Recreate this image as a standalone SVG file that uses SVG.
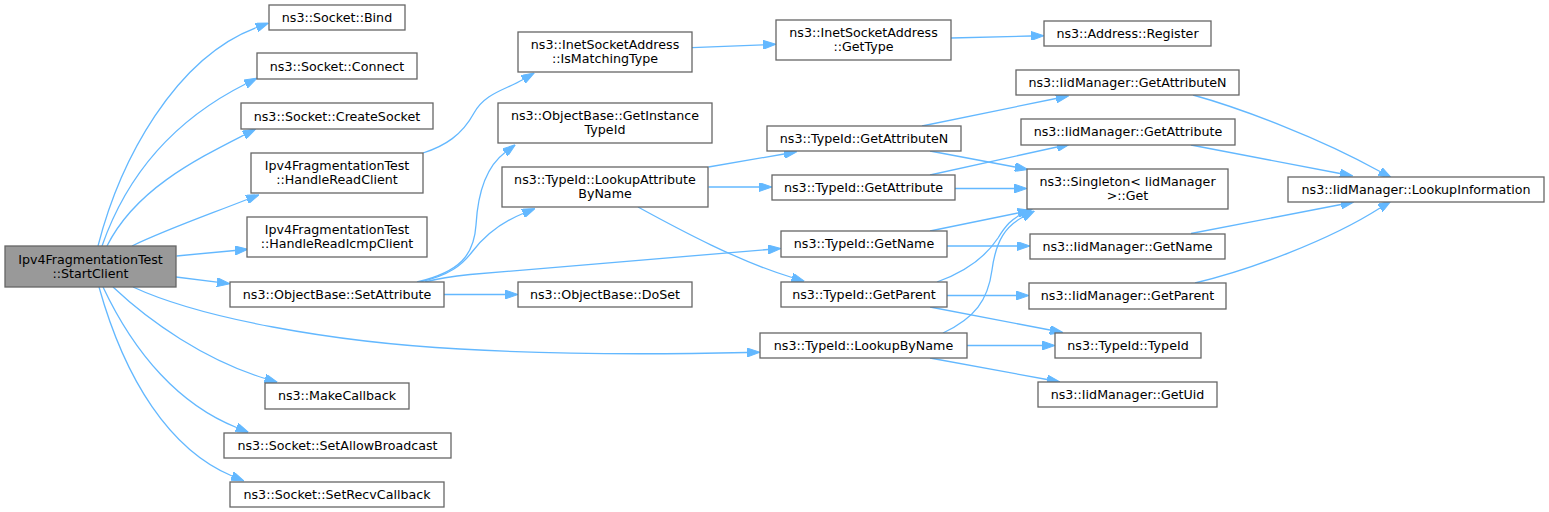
<svg xmlns="http://www.w3.org/2000/svg" width="1549" height="512" viewBox="0 0 1549 512">
<style>
.n rect{fill:#ffffff;stroke:#666666;stroke-width:1.3}
.n.root rect{fill:#999999}
.n text{font-family:"DejaVu Sans","Liberation Sans",sans-serif;font-size:12.67px;fill:#000000;text-anchor:middle}
.e path{fill:none;stroke:#63b8ff;stroke-width:1.3;marker-end:url(#ah)}
</style>
<defs>
<marker id="ah" viewBox="0 0 13 9" refX="0" refY="4.5" markerWidth="13" markerHeight="9" markerUnits="userSpaceOnUse" orient="auto">
<path d="M0,0 L13,4.5 L0,9 Z" fill="#63b8ff" stroke="#63b8ff" stroke-width="1"/>
</marker>
</defs>
<rect width="1549" height="512" fill="#ffffff"/>
<g id="edges" class="e">
<path d="M98,246 C120,160 175,58 256.5,27.5"/>
<path d="M102,246 C125,180 170,122 245.5,84"/>
<path d="M107,246 C135,190 195,160 244,135"/>
<path d="M132,246 C165,230 205,216 247,199.5"/>
<path d="M176.5,256 L235,250.5"/>
<path d="M176,277 L217,282.2"/>
<path d="M133,287 C200,318 330,342 460,349 C560,355 680,354 747,352.5"/>
<path d="M113,287 C150,322 205,360 265,378.5"/>
<path d="M103,287 C135,355 180,405 236.5,427.5"/>
<path d="M99,287 C125,380 170,450 232,476"/>
<path d="M423,153 C445,146 462,135 474,113 C485,93 505,90 523,79.5"/>
<path d="M692,47.7 L763,44.8"/>
<path d="M951,38 L1031,36"/>
<path d="M417,282 C460,272 474,255 476,225 C478,190 487,166 505,152.5"/>
<path d="M420,282 C450,275 462,265 472,252 C485,235 502,222 523,213.5"/>
<path d="M425,282 C440,278 455,276 470,274.5 L768,249.5"/>
<path d="M444,294.5 L505,294.5"/>
<path d="M708.5,167 L784,154"/>
<path d="M708.5,187 L759,187"/>
<path d="M638,207 C680,230 740,262 792,277.5"/>
<path d="M922,126 L1056,98.5"/>
<path d="M930,151 L1015,167"/>
<path d="M930,175 L1057,147"/>
<path d="M955,188.5 L1014,188.5"/>
<path d="M930,231 L1018,213"/>
<path d="M947,246 L1017,246"/>
<path d="M937,282 C965,272 985,258 998,238 C1006,225 1012,219 1021,214.5"/>
<path d="M947,295.5 L1016,295.5"/>
<path d="M930,307 L1050,330"/>
<path d="M943,333 C975,318 988,300 992,270 C996,240 1006,226 1023,217"/>
<path d="M967,345.5 L1042,345.5"/>
<path d="M930,358 L1047,379.5"/>
<path d="M1193,95 C1240,108 1320,138 1380,171.5"/>
<path d="M1191,145 L1340,173.5"/>
<path d="M1191,233.5 L1341,204.5"/>
<path d="M1195,283 C1250,270 1330,240 1380,208"/>
</g>
<g id="n_startclient" class="n root"><rect x="5" y="246" width="171" height="41"/><text x="90.5" y="263.5">Ipv4FragmentationTest</text><text x="90.5" y="277.5">::StartClient</text></g>
<g id="n_bind" class="n"><rect x="269" y="5" width="136" height="25"/><text x="337" y="21.8">ns3::Socket::Bind</text></g>
<g id="n_connect" class="n"><rect x="257" y="53" width="160" height="26"/><text x="337" y="70.5">ns3::Socket::Connect</text></g>
<g id="n_createsocket" class="n"><rect x="241" y="103" width="192" height="26"/><text x="337" y="120.5">ns3::Socket::CreateSocket</text></g>
<g id="n_handlereadclient" class="n"><rect x="251" y="153" width="172" height="40"/><text x="337" y="170">Ipv4FragmentationTest</text><text x="337" y="184">::HandleReadClient</text></g>
<g id="n_handlereadicmpclient" class="n"><rect x="247" y="217" width="180" height="40"/><text x="337" y="234">Ipv4FragmentationTest</text><text x="337" y="248">::HandleReadIcmpClient</text></g>
<g id="n_setattribute" class="n"><rect x="230" y="282" width="214" height="25"/><text x="337" y="298.8">ns3::ObjectBase::SetAttribute</text></g>
<g id="n_makecallback" class="n"><rect x="265" y="383" width="144" height="26"/><text x="337" y="400.3">ns3::MakeCallback</text></g>
<g id="n_setallowbroadcast" class="n"><rect x="224" y="433" width="227" height="25"/><text x="337.5" y="449.8">ns3::Socket::SetAllowBroadcast</text></g>
<g id="n_setrecvcallback" class="n"><rect x="230" y="482" width="214" height="25"/><text x="337" y="498.8">ns3::Socket::SetRecvCallback</text></g>
<g id="n_ismatchingtype" class="n"><rect x="518" y="32" width="174" height="40"/><text x="605" y="49">ns3::InetSocketAddress</text><text x="605" y="63">::IsMatchingType</text></g>
<g id="n_getinstancetypeid" class="n"><rect x="498" y="103" width="214" height="40"/><text x="605" y="120">ns3::ObjectBase::GetInstance</text><text x="605" y="134">TypeId</text></g>
<g id="n_lookupattributebyname" class="n"><rect x="502" y="167" width="206" height="40"/><text x="605" y="184">ns3::TypeId::LookupAttribute</text><text x="605" y="198">ByName</text></g>
<g id="n_doset" class="n"><rect x="518" y="282" width="174" height="25"/><text x="605" y="298.8">ns3::ObjectBase::DoSet</text></g>
<g id="n_gettype" class="n"><rect x="776" y="20" width="175" height="40"/><text x="863.5" y="37">ns3::InetSocketAddress</text><text x="863.5" y="51">::GetType</text></g>
<g id="n_tid_getattributen" class="n"><rect x="767" y="126" width="194" height="25"/><text x="864" y="142.8">ns3::TypeId::GetAttributeN</text></g>
<g id="n_tid_getattribute" class="n"><rect x="772" y="175" width="183" height="25"/><text x="863.5" y="191.8">ns3::TypeId::GetAttribute</text></g>
<g id="n_tid_getname" class="n"><rect x="781" y="231" width="166" height="26"/><text x="864" y="248.3">ns3::TypeId::GetName</text></g>
<g id="n_tid_getparent" class="n"><rect x="781" y="282" width="166" height="25"/><text x="864" y="298.8">ns3::TypeId::GetParent</text></g>
<g id="n_tid_lookupbyname" class="n"><rect x="760" y="333" width="207" height="25"/><text x="863.5" y="349.8">ns3::TypeId::LookupByName</text></g>
<g id="n_register" class="n"><rect x="1044" y="21" width="167" height="25"/><text x="1127.5" y="37.8">ns3::Address::Register</text></g>
<g id="n_im_getattributen" class="n"><rect x="1016" y="70" width="223" height="25"/><text x="1127.5" y="86.8">ns3::IidManager::GetAttributeN</text></g>
<g id="n_im_getattribute" class="n"><rect x="1021" y="119" width="214" height="26"/><text x="1128" y="136.3">ns3::IidManager::GetAttribute</text></g>
<g id="n_singleton" class="n"><rect x="1027" y="169" width="201" height="40"/><text x="1127.5" y="186">ns3::Singleton&lt; IidManager</text><text x="1127.5" y="200">&gt;::Get</text></g>
<g id="n_im_getname" class="n"><rect x="1030" y="234" width="195" height="25"/><text x="1127.5" y="250.8">ns3::IidManager::GetName</text></g>
<g id="n_im_getparent" class="n"><rect x="1029" y="283" width="197" height="26"/><text x="1127.5" y="300.3">ns3::IidManager::GetParent</text></g>
<g id="n_tid_typeid" class="n"><rect x="1055" y="333" width="146" height="25"/><text x="1128" y="349.8">ns3::TypeId::TypeId</text></g>
<g id="n_im_getuid" class="n"><rect x="1038" y="382" width="179" height="25"/><text x="1127.5" y="398.8">ns3::IidManager::GetUid</text></g>
<g id="n_lookupinformation" class="n"><rect x="1288" y="177" width="256" height="25"/><text x="1416" y="193.8">ns3::IidManager::LookupInformation</text></g>
</svg>
